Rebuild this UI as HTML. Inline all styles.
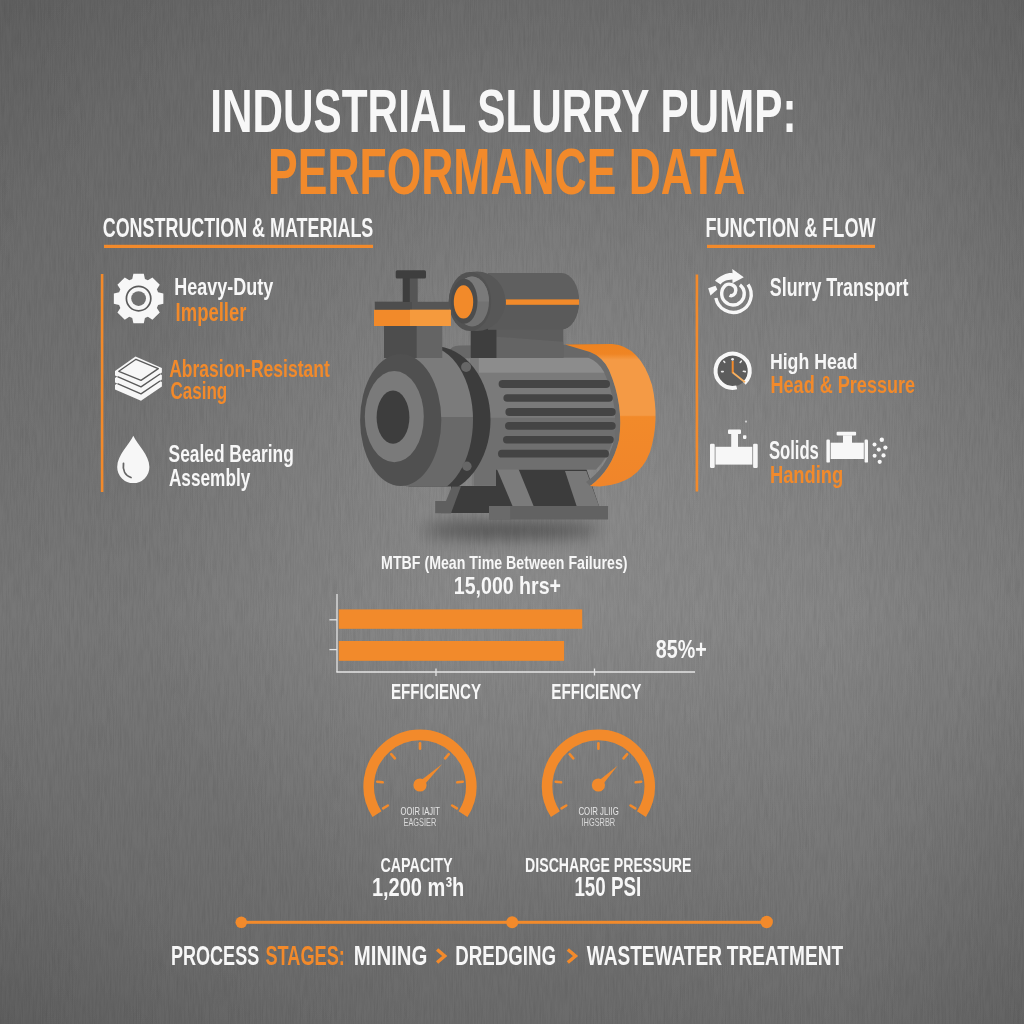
<!DOCTYPE html>
<html><head><meta charset="utf-8"><title>Industrial Slurry Pump: Performance Data</title>
<style>
html,body{margin:0;padding:0;background:#6a6a6a;width:1024px;height:1024px;overflow:hidden;}
svg{display:block;}
text{font-family:"Liberation Sans","DejaVu Sans",Arial,sans-serif;}
</style></head><body>
<svg width="1024" height="1024" viewBox="0 0 1024 1024">
<defs>
<linearGradient id="bgv" x1="0" y1="0" x2="0" y2="1">
<stop offset="0" stop-color="#6b6b6b"/>
<stop offset="0.6" stop-color="#7d7d7d"/>
<stop offset="1" stop-color="#6b6b6b"/>
</linearGradient>
<radialGradient id="bgr" cx="540" cy="480" r="500" gradientUnits="userSpaceOnUse" gradientTransform="translate(540 480) scale(0.84 1) translate(-540 -480)">
<stop offset="0" stop-color="#fff" stop-opacity="0.14"/>
<stop offset="0.5" stop-color="#fff" stop-opacity="0.07"/>
<stop offset="1" stop-color="#fff" stop-opacity="0"/>
</radialGradient>
<linearGradient id="bgh" x1="0" y1="0" x2="1" y2="0">
<stop offset="0" stop-color="#000" stop-opacity="0.05"/>
<stop offset="0.45" stop-color="#000" stop-opacity="0"/>
<stop offset="0.6" stop-color="#fff" stop-opacity="0"/>
<stop offset="0.82" stop-color="#fff" stop-opacity="0.04"/>
<stop offset="1" stop-color="#fff" stop-opacity="0.01"/>
</linearGradient>
<radialGradient id="bgc" cx="470" cy="500" r="760" gradientUnits="userSpaceOnUse">
<stop offset="0" stop-color="#000" stop-opacity="0"/>
<stop offset="0.68" stop-color="#000" stop-opacity="0"/>
<stop offset="1" stop-color="#000" stop-opacity="0.09"/>
</radialGradient>
<filter id="grain" x="0" y="0" width="100%" height="100%">
<feTurbulence type="fractalNoise" baseFrequency="0.75 0.04" numOctaves="3" seed="7" result="n"/>
<feColorMatrix type="matrix" values="0 0 0 0 0  0 0 0 0 0  0 0 0 0 0  0 0 0 -1.6 1.05" />
</filter>
<filter id="blur6" x="-50%" y="-300%" width="200%" height="700%"><feGaussianBlur stdDeviation="8"/></filter>
<linearGradient id="orcap" x1="0" y1="0" x2="0" y2="1">
<stop offset="0" stop-color="#EE8320"/><stop offset="0.07" stop-color="#EF8524"/>
<stop offset="0.11" stop-color="#F49A45"/><stop offset="0.5" stop-color="#F49A45"/>
<stop offset="0.51" stop-color="#F28A2A"/><stop offset="1" stop-color="#F0852A"/>
</linearGradient>
<linearGradient id="vside" x1="0" y1="0" x2="0" y2="1">
<stop offset="0" stop-color="#7b7b7b"/><stop offset="0.48" stop-color="#7b7b7b"/>
<stop offset="0.48" stop-color="#696969"/><stop offset="1" stop-color="#696969"/>
</linearGradient>
<clipPath id="clipBottom"><rect x="300" y="300" width="300" height="186.5"/></clipPath>
</defs>
<rect width="1024" height="1024" fill="url(#bgv)"/>
<rect width="1024" height="1024" fill="url(#bgr)"/>
<rect width="1024" height="1024" fill="url(#bgh)"/>
<rect width="1024" height="1024" fill="url(#bgc)"/>
<rect width="1024" height="1024" filter="url(#grain)" opacity="0.07"/>


<rect x="104" y="244.8" width="269" height="3.2" fill="#F28A2B"/>
<rect x="707" y="244.8" width="168" height="3.2" fill="#F28A2B"/>
<rect x="100.8" y="274" width="2.6" height="218" fill="#F28A2B"/>
<rect x="695.6" y="274.5" width="2.6" height="217" fill="#F28A2B"/>


<g id="gear">
<path d="M132.26,279.11 L133.39,273.84 L143.81,273.84 L144.94,279.11 L147.90,280.33 L152.42,277.41 L159.79,284.78 L156.87,289.30 L158.09,292.26 L163.36,293.39 L163.36,303.81 L158.09,304.94 L156.87,307.90 L159.79,312.42 L152.42,319.79 L147.90,316.87 L144.94,318.09 L143.81,323.36 L133.39,323.36 L132.26,318.09 L129.30,316.87 L124.78,319.79 L117.41,312.42 L120.33,307.90 L119.11,304.94 L113.84,303.81 L113.84,293.39 L119.11,292.26 L120.33,289.30 L117.41,284.78 L124.78,277.41 L129.30,280.33 Z" fill="#F7F7F7"/>
<circle cx="138.6" cy="298.6" r="12.2" fill="none" stroke="#5a5a5a" stroke-width="1.7"/>
<circle cx="138.6" cy="298.6" r="7.4" fill="#707070"/>
</g>
<g id="layers" transform="translate(108,348)" stroke-linejoin="round">
<polygon points="7,37 27.5,22.5 53.9,34 53.9,38.5 33,52.8 7,41.5" fill="#F7F7F7"/>
<polygon points="7,30 27.5,15.5 53.9,27 53.9,31.5 33,45.8 7,34.5" fill="#F7F7F7"/>
<polygon points="7,23 27.5,8.5 53.9,20 53.9,24.5 33,38.8 7,27.5" fill="#F7F7F7"/>
<g fill="none" stroke="#5a5a5a" stroke-width="1.4">
<polyline points="9.5,35.6 33,45.9 52,33"/>
<polyline points="9.5,28.6 33,38.9 52,26"/>
<polygon points="10.8,23.3 28,11.3 50.3,20.6 33,32.4"/>
</g>
</g>
<g id="drop">
<path d="M133.3,435.7 C137,444 149.4,455 149.4,467 A16.1,16.1 0 0 1 117.2,467 C117.2,455 129.6,444 133.3,435.7 Z" fill="#F7F7F7"/>
<path d="M123.5,463.5 C122.5,470 125,475.5 131,477.5" fill="none" stroke="#666" stroke-width="1.8" stroke-linecap="round"/>
</g>


<g id="swirl" fill="none" stroke="#F7F7F7" stroke-width="3.4" stroke-linecap="butt">
<path d="M715.9,298 A17.8,17.8 0 1 0 748,284.5"/>
<path d="M739.9,284.8 A11.3,11.3 0 1 1 725.9,284.9 C729.5,283 736,285 735.8,290.3 C735.6,294.6 732,296.6 729.6,295.2"/>
</g>
<g id="swirl-arrow" fill="#F7F7F7">
<path d="M715,280.7 C721,275 728,272.5 732.5,273.2 L732.3,269 L743.8,277.3 L732.5,283.2 L732.4,279.5 C727,279.8 723,281 720.6,284.6 Z"/>
<path d="M708.2,288.3 L715.5,285.7 L717.3,289.6 L710.5,295.5 Z"/>
</g>
<g id="clock">
<circle cx="732.6" cy="370.8" r="15.6" fill="#5c5c5c"/>
<path d="M736.7,387.4 A17.1,17.1 0 1 1 744.3,383.3" fill="none" stroke="#F7F7F7" stroke-width="4"/>
<g stroke="#e8e8e8" stroke-width="1.6" stroke-linecap="round">
<line x1="723.2" y1="371.6" x2="721.6" y2="371.6"/>
<line x1="743.4" y1="371.3" x2="745.3" y2="371.6"/>
<line x1="724.7" y1="362.3" x2="723.8" y2="361.3"/>
<line x1="740.2" y1="362.5" x2="741.3" y2="361.2"/>
</g>
<circle cx="732.6" cy="359.3" r="1.4" fill="#eee"/>
<line x1="732.7" y1="373" x2="732.7" y2="361" stroke="#F28A2B" stroke-width="2"/>
<line x1="732.7" y1="372.5" x2="745" y2="382.3" stroke="#F7B060" stroke-width="1.8"/>
</g>
<g id="valve1">
<rect x="710" y="443.7" width="4.7" height="24.19999999999999" rx="1.2" fill="#F7F7F7"/><rect x="715.5" y="446.8" width="36.799999999999955" height="17.80000000000001" fill="#F7F7F7"/><rect x="753.0999999999999" y="443.7" width="4.600000000000091" height="24.19999999999999" rx="1.2" fill="#F7F7F7"/><rect x="731.2" y="433.5" width="6.7999999999999545" height="13.800000000000011" fill="#F7F7F7"/><rect x="728" y="429.4" width="13" height="4.600000000000023" rx="1" fill="#F7F7F7"/>
<rect x="743" y="435.3" width="3.4" height="3.6" rx="0.8" fill="#F7F7F7"/>
<circle cx="746" cy="421.6" r="1.1" fill="#cfcfcf"/>
</g>
<g id="valve2">
<rect x="826.4" y="439.6" width="3.5000000000000684" height="23.0" rx="1.2" fill="#F7F7F7"/><rect x="830.7" y="442.7" width="33.09999999999991" height="16.30000000000001" fill="#F7F7F7"/><rect x="864.5999999999999" y="439.6" width="3.4000000000000457" height="23.0" rx="1.2" fill="#F7F7F7"/><rect x="843" y="435.3" width="9" height="7.899999999999977" fill="#F7F7F7"/><rect x="836.6" y="431.8" width="19.5" height="3.8000000000000114" rx="1" fill="#F7F7F7"/>
<g fill="#F7F7F7">
<circle cx="881.8" cy="439.8" r="2.2"/><circle cx="874.5" cy="444.6" r="2"/>
<circle cx="885.4" cy="447.6" r="2.1"/><circle cx="878.8" cy="449.6" r="2.1"/>
<circle cx="874.6" cy="455.7" r="2"/><circle cx="883.5" cy="455.4" r="2.1"/>
<circle cx="879.7" cy="461.8" r="2.1"/>
</g>
</g>


<g id="pump">
<ellipse cx="512" cy="530" rx="88" ry="9" fill="#000" opacity="0.38" filter="url(#blur6)"/>
<!-- base, behind -->
<path d="M451,486 L496,486 L496,469 L586.4,469 L599.1,506.2 L489,506.2 L489,513 L451,513 Z" fill="#3c3c3c"/>
<polygon points="452,486.3 461,486.3 451,513.2 441,513.2" fill="#5f5f5f"/>
<rect x="435.2" y="501" width="16" height="12.2" fill="#5f5f5f"/>
<polygon points="496.8,468.7 518.4,468.7 533.7,506.2 512.6,506.2" fill="#7b7b7b"/>
<polygon points="565,471 586.4,471 599.1,506.2 576.7,506.2" fill="#787878"/>
<rect x="489.1" y="506" width="119" height="13.5" fill="#626262"/>
<rect x="489.1" y="506" width="21" height="13.5" fill="#6a6a6a"/>

<!-- motor top housing (behind body) -->
<path d="M449.5,358 L449.5,352 Q450,345.4 460,345.4 L600,344.5 L600,360 Z" fill="#686868"/>
<!-- motor body -->
<path d="M470,357.5 L604,357.5 Q621,395 616,430 Q612,455 596,469.5 L496,469.5 L496,485.7 L472,485.7 Z" fill="#7a7a7a"/>
<rect x="478.8" y="358" width="127" height="14.7" fill="#8c8c8c"/>
<path d="M474,417.7 L618,417.7 Q614,450 596,469.5 L496,469.5 L496,485.7 L474,485.7 Z" fill="#6f6f6f"/>
<path d="M586,482 Q607,468 614,440 Q619,405 604,372 Q599,362 588,357.5 L590,352 Q603,357 609,370 Q624,405 619,440 Q612,470 590,486 Z" fill="#6c6c6c"/>
<!-- fins -->
<g fill="#444">
<rect x="498.6" y="380" width="111.4" height="8" rx="4"/>
<rect x="503.4" y="394.2" width="109.4" height="7.6" rx="3.8"/>
<rect x="505.4" y="408" width="110.3" height="8" rx="4"/>
<rect x="505" y="421.9" width="110.7" height="7.8" rx="3.9"/>
<rect x="503" y="436" width="110.8" height="7.4" rx="3.7"/>
<rect x="498" y="449.8" width="111" height="7.8" rx="3.9"/>
</g>
<!-- orange end cap -->
<path d="M565,344.4 L612,344 Q640,346 652,385 Q660,420 650,452 Q638,484 600,486.5 L590,486 Q612,470 619,440 Q624,405 609,370 Q603,357 590,352 Z" fill="url(#orcap)"/>

<!-- support block below top cylinder -->
<rect x="470.8" y="327" width="92.5" height="31" fill="#5d5d5d"/>
<polygon points="496.4,336.7 563.3,341.8 563.3,358 496.4,358" fill="#646464"/>
<rect x="470.8" y="327" width="25.6" height="31" fill="#3e3e3e"/>

<!-- top cylinder -->
<path d="M488,273 L561.5,273 A17.7,28.2 0 0 1 561.5,329.4 L488,329.4 Z" fill="#5f5f5f"/>
<path d="M488,301 L579,301 A17.7,28.2 0 0 1 561.5,329.4 L488,329.4 Z" fill="#5a5a5a"/>
<rect x="505.9" y="299.4" width="73.2" height="5.4" fill="#F28A2A"/>
<ellipse cx="477" cy="301.2" rx="28.3" ry="29.7" fill="#575757"/>
<ellipse cx="470" cy="301.5" rx="21.2" ry="29.5" fill="#525252"/>
<ellipse cx="472" cy="301.5" rx="17" ry="25" fill="#727272"/>
<path d="M455,301.5 A17,25 0 0 1 489,301.5 L 455,301.5 Z" fill="#7a7a7a"/>
<ellipse cx="464.3" cy="301.3" rx="13.2" ry="22.5" fill="#4c4c4c"/>
<ellipse cx="463.5" cy="301.9" rx="9.7" ry="16.6" fill="#F28A2A"/>

<!-- flange ring dark (behind volute side) -->
<g clip-path="url(#clipBottom)">
<ellipse cx="433.5" cy="420" rx="57" ry="74" fill="#3c3c3c"/>
<!-- volute side (cylinder) -->
<ellipse cx="426.4" cy="420" rx="46.6" ry="74" fill="url(#vside)"/>
<circle cx="466.1" cy="367" r="5" fill="#666"/>
<circle cx="466.9" cy="466.3" r="4.7" fill="#666"/>
</g>
<!-- neck -->
<rect x="384" y="322" width="58.3" height="36" fill="#646464"/>
<rect x="384" y="322" width="32.7" height="36" fill="#4d4d4d"/>
<!-- volute front face -->
<ellipse cx="400.7" cy="420" rx="40.6" ry="66" fill="#505050"/>
<ellipse cx="394.3" cy="416.7" rx="29.5" ry="45.6" fill="#7a7a7a"/>
<ellipse cx="393" cy="417.2" rx="16.4" ry="26.6" fill="#3d3d3d"/>
<!-- flange + orange band -->
<rect x="374.9" y="301.8" width="74.7" height="8.2" fill="#555"/>
<rect x="374.9" y="301.8" width="37" height="8.2" fill="#4d4d4d"/>
<rect x="374" y="309.8" width="76.8" height="16.2" fill="#F28A2A"/>
<rect x="410" y="309.8" width="40.8" height="16.2" fill="#F59A3D"/>
<!-- handle -->
<rect x="402.8" y="278" width="14.9" height="24" fill="#555"/>
<rect x="402.8" y="278" width="7" height="24" fill="#3d3d3d"/>
<rect x="395.7" y="270.3" width="30.3" height="8.3" rx="1.5" fill="#3e3e3e"/>
</g>


<g id="chart">
<rect x="338.8" y="609.4" width="243.4" height="19.4" fill="#F28A2B"/>
<rect x="338.8" y="641" width="225.3" height="19.8" fill="#F28A2B"/>
<g stroke="#e4e4e4" stroke-width="1.3" fill="none">
<line x1="337" y1="594" x2="337" y2="672.3"/>
<line x1="336.4" y1="672" x2="695" y2="672"/>
<line x1="329.4" y1="619.8" x2="337" y2="619.8"/>
<line x1="329.4" y1="649.6" x2="337" y2="649.6"/>
<line x1="436" y1="668.5" x2="436" y2="676"/>
<line x1="594.5" y1="668.5" x2="594.5" y2="675.5"/>
</g>
</g>

<path d="M376.98,814.14 A51.3,51.3 0 1 1 463.02,814.14" fill="none" stroke="#F28A2B" stroke-width="10.6"/>
<line x1="420.00" y1="748.70" x2="420.00" y2="743.20" stroke="#F28A2B" stroke-width="2.6" stroke-linecap="round"/>
<line x1="394.91" y1="758.33" x2="391.23" y2="754.24" stroke="#F28A2B" stroke-width="2.6" stroke-linecap="round"/>
<line x1="445.09" y1="758.33" x2="448.77" y2="754.24" stroke="#F28A2B" stroke-width="2.6" stroke-linecap="round"/>
<line x1="382.71" y1="782.28" x2="377.24" y2="781.71" stroke="#F28A2B" stroke-width="2.6" stroke-linecap="round"/>
<line x1="457.29" y1="782.28" x2="462.76" y2="781.71" stroke="#F28A2B" stroke-width="2.6" stroke-linecap="round"/>
<line x1="387.86" y1="805.51" x2="383.14" y2="808.35" stroke="#F28A2B" stroke-width="2.6" stroke-linecap="round"/>
<line x1="452.14" y1="805.51" x2="456.86" y2="808.35" stroke="#F28A2B" stroke-width="2.6" stroke-linecap="round"/>
<polygon points="422.19,787.33 442.30,764.00 417.81,782.67" fill="#F28A2B"/>
<circle cx="420" cy="785" r="6.6" fill="#F28A2B"/>
<path d="M555.38,814.14 A51.3,51.3 0 1 1 641.42,814.14" fill="none" stroke="#F28A2B" stroke-width="10.6"/>
<line x1="598.40" y1="748.70" x2="598.40" y2="743.20" stroke="#F28A2B" stroke-width="2.6" stroke-linecap="round"/>
<line x1="573.31" y1="758.33" x2="569.63" y2="754.24" stroke="#F28A2B" stroke-width="2.6" stroke-linecap="round"/>
<line x1="623.49" y1="758.33" x2="627.17" y2="754.24" stroke="#F28A2B" stroke-width="2.6" stroke-linecap="round"/>
<line x1="561.11" y1="782.28" x2="555.64" y2="781.71" stroke="#F28A2B" stroke-width="2.6" stroke-linecap="round"/>
<line x1="635.69" y1="782.28" x2="641.16" y2="781.71" stroke="#F28A2B" stroke-width="2.6" stroke-linecap="round"/>
<line x1="566.26" y1="805.51" x2="561.54" y2="808.35" stroke="#F28A2B" stroke-width="2.6" stroke-linecap="round"/>
<line x1="630.54" y1="805.51" x2="635.26" y2="808.35" stroke="#F28A2B" stroke-width="2.6" stroke-linecap="round"/>
<polygon points="600.67,787.25 617.50,765.70 596.13,782.75" fill="#F28A2B"/>
<circle cx="598.4" cy="785" r="6.6" fill="#F28A2B"/>

<g id="timeline">
<rect x="241" y="920.8" width="526" height="3" fill="#F28A2B"/>
<circle cx="241.3" cy="922.3" r="5.8" fill="#F28A2B"/>
<circle cx="512.2" cy="922.3" r="6" fill="#F28A2B"/>
<circle cx="766.7" cy="922" r="6.2" fill="#F28A2B"/>
<polyline points="437.1,949.5 444.7,956.0 437.1,962.5" fill="none" stroke="#F28A2B" stroke-width="3.4" stroke-linejoin="miter"/>
<polyline points="567.8,949.5 575.5,956.0 567.8,962.5" fill="none" stroke="#F28A2B" stroke-width="3.4" stroke-linejoin="miter"/>
</g>

<text x="210.3" y="132.0" font-size="61.05" fill="#F7F7F7" font-weight="bold" textLength="586.3" lengthAdjust="spacingAndGlyphs">INDUSTRIAL SLURRY PUMP:</text>
<text x="268.1" y="194.0" font-size="64.68" fill="#F28A2B" font-weight="bold" textLength="477.5" lengthAdjust="spacingAndGlyphs">PERFORMANCE DATA</text>
<text x="102.7" y="237.0" font-size="27.91" fill="#F7F7F7" font-weight="bold" textLength="270.6" lengthAdjust="spacingAndGlyphs">CONSTRUCTION &amp; MATERIALS</text>
<text x="705.4" y="236.8" font-size="27.33" fill="#F7F7F7" font-weight="bold" textLength="170.3" lengthAdjust="spacingAndGlyphs">FUNCTION &amp; FLOW</text>
<text x="174.3" y="295.4" font-size="24.27" fill="#F7F7F7" font-weight="bold" textLength="98.9" lengthAdjust="spacingAndGlyphs">Heavy-Duty</text>
<text x="175.6" y="320.9" font-size="25.00" fill="#F28A2B" font-weight="bold" textLength="70.8" lengthAdjust="spacingAndGlyphs">Impeller</text>
<text x="169.2" y="376.6" font-size="23.84" fill="#F28A2B" font-weight="bold" textLength="160.6" lengthAdjust="spacingAndGlyphs">Abrasion-Resistant</text>
<text x="170.4" y="399.4" font-size="24.56" fill="#F28A2B" font-weight="bold" textLength="56.8" lengthAdjust="spacingAndGlyphs">Casing</text>
<text x="168.6" y="461.9" font-size="23.84" fill="#F7F7F7" font-weight="bold" textLength="125.2" lengthAdjust="spacingAndGlyphs">Sealed Bearing</text>
<text x="168.9" y="486.1" font-size="24.71" fill="#F7F7F7" font-weight="bold" textLength="81.4" lengthAdjust="spacingAndGlyphs">Assembly</text>
<text x="769.8" y="295.5" font-size="24.85" fill="#F7F7F7" font-weight="bold" textLength="138.7" lengthAdjust="spacingAndGlyphs">Slurry Transport</text>
<text x="769.9" y="368.6" font-size="22.82" fill="#F7F7F7" font-weight="bold" textLength="87.6" lengthAdjust="spacingAndGlyphs">High Head</text>
<text x="770.5" y="393.4" font-size="23.84" fill="#F28A2B" font-weight="bold" textLength="144.6" lengthAdjust="spacingAndGlyphs">Head &amp; Pressure</text>
<text x="768.9" y="458.5" font-size="25.00" fill="#F7F7F7" font-weight="bold" textLength="50.0" lengthAdjust="spacingAndGlyphs">Solids</text>
<text x="769.9" y="482.7" font-size="23.55" fill="#F28A2B" font-weight="bold" textLength="73.4" lengthAdjust="spacingAndGlyphs">Handing</text>
<text x="381.1" y="569.3" font-size="18.02" fill="#F7F7F7" font-weight="bold" textLength="246.4" lengthAdjust="spacingAndGlyphs">MTBF (Mean Time Between Failures)</text>
<text x="453.8" y="594.3" font-size="23.69" fill="#F7F7F7" font-weight="bold" textLength="107.2" lengthAdjust="spacingAndGlyphs">15,000 hrs+</text>
<text x="655.8" y="658.3" font-size="25.15" fill="#F7F7F7" font-weight="bold" textLength="51.0" lengthAdjust="spacingAndGlyphs">85%+</text>
<text x="390.9" y="699.0" font-size="21.80" fill="#F7F7F7" font-weight="bold" textLength="90.1" lengthAdjust="spacingAndGlyphs">EFFICIENCY</text>
<text x="551.3" y="699.0" font-size="22.09" fill="#F7F7F7" font-weight="bold" textLength="90.2" lengthAdjust="spacingAndGlyphs">EFFICIENCY</text>
<text x="380.4" y="871.5" font-size="20.64" fill="#F7F7F7" font-weight="bold" textLength="72.1" lengthAdjust="spacingAndGlyphs">CAPACITY</text>
<text x="371.9" y="896.4" font-size="26.60" fill="#F7F7F7" font-weight="bold" textLength="92.4" lengthAdjust="spacingAndGlyphs">1,200 m&#179;h</text>
<text x="525.1" y="871.6" font-size="20.49" fill="#F7F7F7" font-weight="bold" textLength="166.4" lengthAdjust="spacingAndGlyphs">DISCHARGE PRESSURE</text>
<text x="574.4" y="896.4" font-size="27.03" fill="#F7F7F7" font-weight="bold" textLength="66.8" lengthAdjust="spacingAndGlyphs">150 PSI</text>
<text x="400.5" y="815.0" font-size="10.47" fill="#E6E6E6" font-weight="normal" textLength="39.3" lengthAdjust="spacingAndGlyphs">OOIR IAJIT</text>
<text x="403.5" y="825.5" font-size="10.17" fill="#D8D8D8" font-weight="normal" textLength="32.7" lengthAdjust="spacingAndGlyphs">EAGSIER</text>
<text x="578.5" y="815.0" font-size="10.47" fill="#E6E6E6" font-weight="normal" textLength="40.2" lengthAdjust="spacingAndGlyphs">COIR JLIIG</text>
<text x="581.5" y="825.5" font-size="10.17" fill="#D8D8D8" font-weight="normal" textLength="33.7" lengthAdjust="spacingAndGlyphs">IHGSRBR</text>
<text x="171.0" y="964.5" font-size="27.62" fill="#F7F7F7" font-weight="bold" textLength="88.2" lengthAdjust="spacingAndGlyphs">PROCESS</text>
<text x="265.5" y="964.5" font-size="27.62" fill="#F28A2B" font-weight="bold" textLength="79.3" lengthAdjust="spacingAndGlyphs">STAGES:</text>
<text x="353.8" y="964.5" font-size="27.62" fill="#F7F7F7" font-weight="bold" textLength="73.6" lengthAdjust="spacingAndGlyphs">MINING</text>
<text x="455.2" y="964.5" font-size="27.62" fill="#F7F7F7" font-weight="bold" textLength="100.9" lengthAdjust="spacingAndGlyphs">DREDGING</text>
<text x="586.8" y="964.5" font-size="27.62" fill="#F7F7F7" font-weight="bold" textLength="135.1" lengthAdjust="spacingAndGlyphs">WASTEWATER</text>
<text x="726.8" y="964.5" font-size="27.62" fill="#F7F7F7" font-weight="bold" textLength="116.3" lengthAdjust="spacingAndGlyphs">TREATMENT</text>
</svg></body></html>
